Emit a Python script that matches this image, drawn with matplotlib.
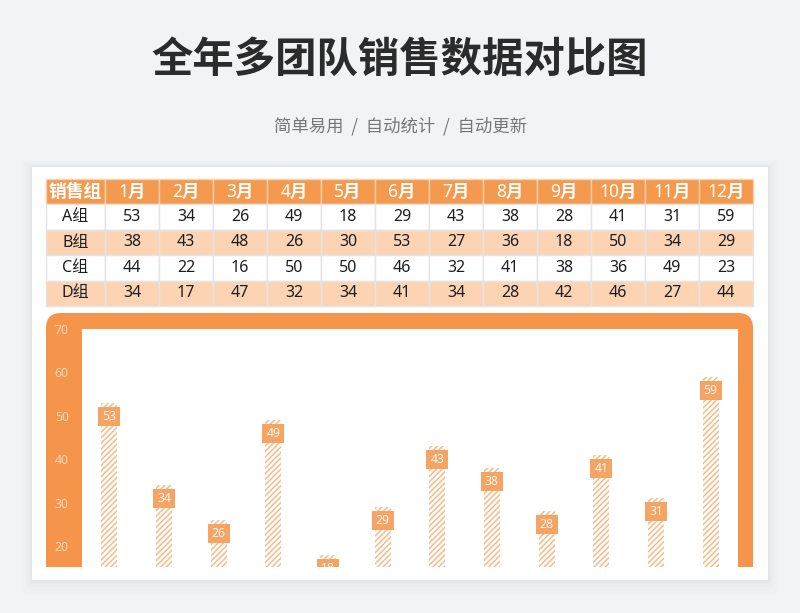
import matplotlib
matplotlib.use("Agg")
import matplotlib.pyplot as plt
from matplotlib.patches import Rectangle, FancyBboxPatch

plt.rcParams['font.family'] = ['Noto Sans CJK SC', 'DejaVu Sans']
plt.rcParams['hatch.linewidth'] = 1.1

# ---------------- data ----------------
title = "全年多团队销售数据对比图"
subtitle = "简单易用  /  自动统计  /  自动更新"
months = ["1月", "2月", "3月", "4月", "5月", "6月", "7月", "8月", "9月", "10月", "11月", "12月"]
header_first = "销售组"
groups = ["A组", "B组", "C组", "D组"]
team_a = [53, 34, 26, 49, 18, 29, 43, 38, 28, 41, 31, 59]
team_b = [38, 43, 48, 26, 30, 53, 27, 36, 18, 50, 34, 29]
team_c = [44, 22, 16, 50, 50, 46, 32, 41, 38, 36, 49, 23]
team_d = [34, 17, 47, 32, 34, 41, 34, 28, 42, 46, 27, 44]
yticks = [20, 30, 40, 50, 60, 70]

# ---------------- styles ----------------
BG = '#f2f3f5'
ORANGE = '#f5954b'
HEAD = '#f39a4f'
PEACH = '#fcd4b4'
HATCH = '#f5bb8a'
LABELBOX = '#f6a464'
LATIN_CJK = ['Noto Sans', 'Noto Sans CJK SC', 'DejaVu Sans']

W, H = 800, 613
fig = plt.figure(figsize=(W / 100, H / 100), dpi=100, facecolor=BG)
bg = fig.add_axes([0, 0, 1, 1])
bg.set_xlim(0, W)
bg.set_ylim(H, 0)
bg.axis('off')
bg.set_facecolor(BG)

# title / subtitle
bg.text(400, 60, title, ha='center', va='center', fontsize=29.8,
        fontweight='heavy', color='#2b2b2b')
bg.text(400, 126, subtitle, ha='center', va='center', fontsize=12.5,
        color='#777777')

# card with soft shadow
cx0, cy0, cx1, cy1 = 32, 167, 768, 580
for k, a in [(10, 0.015), (7, 0.02), (5, 0.03), (3, 0.04), (1.5, 0.05)]:
    bg.add_patch(Rectangle((cx0 - k, cy0 - k * 0.6), (cx1 - cx0) + 2 * k,
                           (cy1 - cy0) + 2 * k, facecolor='#9aa0ad', alpha=a,
                           edgecolor='none', zorder=1))
bg.add_patch(Rectangle((cx0, cy0), cx1 - cx0, cy1 - cy0, facecolor='white',
                       edgecolor='none', zorder=2))

# table
col_edges = [46, 105] + [105 + 54 * (i + 1) for i in range(12)]
row_h = 25.4
row_top = 179
rows = [team_a, team_b, team_c, team_d]
row_colors = ['white', PEACH, 'white', PEACH]
header_cells = [header_first] + months
for j, lab in enumerate(header_cells):
    x0, x1 = col_edges[j], col_edges[j + 1]
    bg.add_patch(Rectangle((x0, row_top), x1 - x0, row_h, facecolor=HEAD,
                           edgecolor='#fbd0ad', linewidth=1, zorder=3))
    bg.text((x0 + x1) / 2, row_top + row_h / 2, lab, ha='center', va='center',
            fontsize=12.8 if j == 0 else 12.5, fontweight='bold',
            color='white', zorder=4, family=LATIN_CJK)
for i, (g, vals) in enumerate(zip(groups, rows)):
    y0 = row_top + row_h * (i + 1)
    cells = [g] + [str(v) for v in vals]
    for j, lab in enumerate(cells):
        x0, x1 = col_edges[j], col_edges[j + 1]
        bg.add_patch(Rectangle((x0, y0), x1 - x0, row_h,
                               facecolor=row_colors[i], edgecolor='#e4e4e4',
                               linewidth=1, zorder=3))
        bg.text((x0 + x1) / 2, y0 + row_h / 2, lab, ha='center', va='center',
                fontsize=11.5, color='#1e1e1e', zorder=4, family=LATIN_CJK)

# orange frame (clipped at the chart bottom)
fx0, fy0, fx1, fbot = 46, 313, 753, 567
frame = FancyBboxPatch((fx0, fy0), fx1 - fx0, 320,
                       boxstyle='round,pad=0,rounding_size=15',
                       facecolor=ORANGE, edgecolor='none', zorder=3)
bg.add_patch(frame)
clip = Rectangle((0, 0), W, fbot, transform=bg.transData)
frame.set_clip_path(clip)

# chart axes (inner white area)
ix0, iy0, ix1 = 82, 329, 738
ax = fig.add_axes([ix0 / W, (H - fbot) / H, (ix1 - ix0) / W, (fbot - iy0) / H])
ax.set_facecolor('white')
ymin, ymax = 15.2, 70
ax.set_ylim(ymin, ymax)
ax.set_xlim(-0.5, len(months) - 0.5)
for s in ax.spines.values():
    s.set_visible(False)
ax.set_xticks([])
ax.set_yticks(yticks)
ax.set_yticklabels([str(t) for t in yticks])
ax.tick_params(axis='y', length=0, pad=9.5, labelsize=8.8, labelcolor='#fcd8ba')
for lab in ax.get_yticklabels():
    lab.set_family(['Noto Sans', 'DejaVu Sans'])

x = list(range(len(months)))
ax.bar(x, team_a, width=0.29, color='white', edgecolor=HATCH, hatch='//////',
       linewidth=0, zorder=2)

px_per_unit = (fbot - iy0) / (ymax - ymin)
box_w = 22 / ((ix1 - ix0) / len(months))
box_h = 19 / px_per_unit
gap = 4 / px_per_unit
for xi, v in zip(x, team_a):
    ax.add_patch(Rectangle((xi - box_w / 2, v - gap - box_h), box_w, box_h,
                           facecolor=LABELBOX, edgecolor='none', zorder=3))
    ax.text(xi, v - gap - box_h / 2, str(v), ha='center', va='center',
            fontsize=8.8, color='#fff6ee', zorder=4, clip_on=True,
            family=['Noto Sans', 'DejaVu Sans'])

fig.savefig('out.png', dpi=100, facecolor=BG)
